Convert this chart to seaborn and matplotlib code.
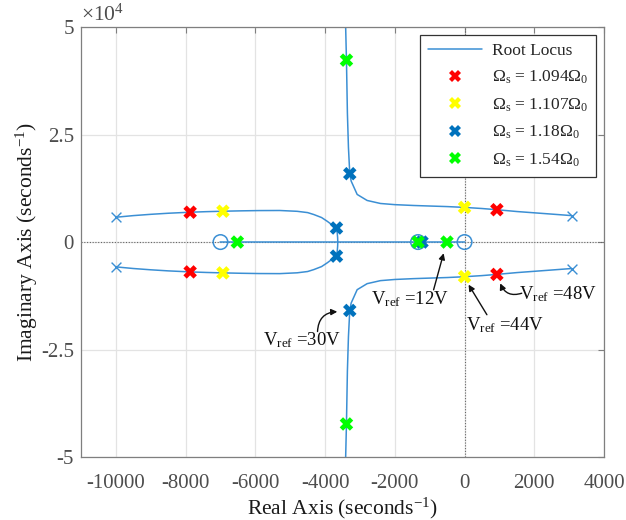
import matplotlib
matplotlib.use("Agg")
import matplotlib.pyplot as plt
from matplotlib.lines import Line2D
import pandas as pd
import seaborn as sns

# ---- root-locus branches (upper half-plane; the lower half is the conjugate) ----
left_branch_x = [-10000, -9500, -9000, -8500, -7870, -7400, -6930, -6400, -5900, -5300,
                 -4800, -4500, -4323, -4100, -3940, -3800, -3673, -3650, -3640, -3636]
left_branch_y = [5770, 6150, 6450, 6700, 6940, 7070, 7170, 7260, 7320, 7340,
                 7150, 6850, 6400, 5700, 4840, 4000, 3270, 2000, 1000, 0]

right_branch_x = [3075, 2500, 2000, 1500, 927, 500, 0, -500, -1000, -1460, -2000,
                  -2413, -2794, -3080, -3252, -3292, -3330, -3360, -3387, -3410]
right_branch_y = [6150, 6500, 6800, 7100, 7520, 7800, 8060, 8250, 8380, 8505, 8700,
                  8972, 9673, 11075, 14182, 15900, 22000, 30000, 42300, 50000]

real_segment_x = [-7000, 0]
real_segment_y = [0, 0]

# open-loop poles (x) and zeros (o)
pole_x = [-10000, -10000, 3075, 3075]
pole_y = [5770, -5770, 6150, -6150]
zero_x = [-7000, -1334, 0]
zero_y = [0, 0, 0]

# closed-loop poles for each switching frequency
case_labels = [r"$\Omega_{\rm s}$ = 1.094$\Omega_{\rm 0}$",
               r"$\Omega_{\rm s}$ = 1.107$\Omega_{\rm 0}$",
               r"$\Omega_{\rm s}$ = 1.18$\Omega_{\rm 0}$",
               r"$\Omega_{\rm s}$ = 1.54$\Omega_{\rm 0}$"]
case_colors = ["#ff0000", "#ffff00", "#0072BD", "#00ff00"]
red_x = [-7870, -7870, 927, 927]
red_y = [6940, -6940, 7520, -7520]
yellow_x = [-6930, -6930, 0, 0]
yellow_y = [7170, -7170, 8060, -8060]
blue_x = [-3673, -3673, -3292, -3292, -1220]
blue_y = [3270, -3270, 15900, -15900, 0]
green_x = [-6516, -3387, -3387, -1334, -504]
green_y = [0, 42300, -42300, 0, 0]

x_ticks = [-10000, -8000, -6000, -4000, -2000, 0, 2000, 4000]
y_ticks = [-50000, -25000, 0, 25000, 50000]
y_tick_labels = ["-5", "-2.5", "0", "2.5", "5"]

# annotations: (label, text position, arrow tail, arrow head, arc radius)
annotations = [
    ("12V", (-1555, -13200), (-888, -11100), (-600, -2600), 0.0),
    ("44V", (1150, -19300), (641, -16900), (115, -9900), 0.0),
    ("48V", (2680, -12000), (1640, -11900), (1022, -9600), -0.45),
    ("30V", (-4650, -22800), (-4217, -20800), (-3650, -16200), -0.45),
]

# ---------------------------------------------------------------------------
sns.set_theme(style="white")
plt.rcParams["font.family"] = ["Liberation Serif", "DejaVu Serif"]
plt.rcParams["mathtext.fontset"] = "custom"
plt.rcParams["mathtext.rm"] = "Liberation Serif"
plt.rcParams["mathtext.it"] = "Liberation Serif:italic"
plt.rcParams["mathtext.bf"] = "Liberation Serif:bold"
plt.rcParams["axes.unicode_minus"] = False

locus_color = "#3b8fd4"
tick_gray = "#4d4d4d"

fig = plt.figure(figsize=(6.26, 5.2), dpi=100)
ax = fig.add_axes([0.1294, 0.121, 0.8355, 0.827])

# branch table
rows = []
for bid, (bx, by) in enumerate([(left_branch_x, left_branch_y), (right_branch_x, right_branch_y)]):
    for sgn, tag in ((1, "u"), (-1, "l")):
        for xv, yv in zip(bx, by):
            rows.append({"x": xv, "y": sgn * yv, "branch": f"{bid}{tag}"})
for xv, yv in zip(real_segment_x, real_segment_y):
    rows.append({"x": xv, "y": yv, "branch": "real"})
branches = pd.DataFrame(rows)

# axes zero lines
ax.axhline(0, color="#666666", lw=0.8, ls=(0, (1, 1.5)), zorder=1)
ax.axvline(0, color="#666666", lw=0.8, ls=(0, (1, 1.5)), zorder=1)

sns.lineplot(data=branches, x="x", y="y", units="branch", estimator=None, sort=False,
             color=locus_color, lw=1.1, ax=ax, zorder=2)

ax.scatter(pole_x, pole_y, marker="x", s=50, color=locus_color, linewidths=1.0, zorder=3)
ax.scatter(zero_x, zero_y, marker="o", s=110, facecolors="none", edgecolors=locus_color,
           linewidths=1.1, zorder=3)

pts = []
for lab, xs, ys in zip(case_labels, [red_x, yellow_x, blue_x, green_x],
                       [red_y, yellow_y, blue_y, green_y]):
    for xv, yv in zip(xs, ys):
        pts.append({"x": xv, "y": yv, "case": lab})
points = pd.DataFrame(pts)
sns.scatterplot(data=points, x="x", y="y", hue="case", hue_order=case_labels,
                palette=case_colors, marker="X", s=95, linewidth=0, legend=False,
                ax=ax, zorder=4)

# annotations
for val, tpos, tail, head, rad in annotations:
    ax.text(tpos[0], tpos[1], r"V$_{\rm ref}$ =" + val, fontsize=13.5, ha="center",
            va="center", color="#111111", zorder=5)
    ax.annotate("", xy=head, xytext=tail,
                arrowprops=dict(arrowstyle="-|>", color="#111111", lw=1.0,
                                mutation_scale=9, shrinkA=0, shrinkB=0,
                                connectionstyle=f"arc3,rad={rad}"), zorder=5)

ax.set_xlim(-11000, 4000)
ax.set_ylim(-50000, 50000)
ax.set_xticks(x_ticks)
ax.set_xticklabels([str(v) for v in x_ticks])
ax.set_yticks(y_ticks)
ax.set_yticklabels(y_tick_labels)
ax.grid(True, color="#e3e3e3", lw=0.9)
ax.set_axisbelow(True)
ax.tick_params(direction="in", length=4, width=0.8, colors="#7f7f7f",
               labelcolor=tick_gray, labelsize=15, top=True, right=True)
ax.tick_params(axis="x", pad=12)
ax.tick_params(axis="y", pad=5)
for sp in ax.spines.values():
    sp.set_color("#7f7f7f")
    sp.set_linewidth(0.9)

ax.set_xlabel(r"Real Axis (seconds$^{-1}$)", fontsize=15.5, color="#1a1a1a", labelpad=2)
ax.set_ylabel(r"Imaginary Axis (seconds$^{-1}$)", fontsize=15.5, color="#1a1a1a", labelpad=1)
ax.text(0.0, 1.003, r"$\times$10$^{\rm 4}$", transform=ax.transAxes, fontsize=15.5,
        color=tick_gray, ha="left", va="bottom")

handles = [Line2D([], [], color=locus_color, lw=1.1)]
for c in case_colors:
    handles.append(Line2D([], [], ls="", marker="X", color=c, markersize=9, mew=0))
leg = ax.legend(handles, ["Root Locus"] + case_labels, loc="upper right", fontsize=12.5,
                frameon=True, fancybox=False, framealpha=1, edgecolor="#333333",
                borderaxespad=0.45, handlelength=3.1, handletextpad=0.6,
                labelspacing=0.58, borderpad=0.45)
leg.get_frame().set_linewidth(0.9)

fig.savefig("out.png", dpi=100)
